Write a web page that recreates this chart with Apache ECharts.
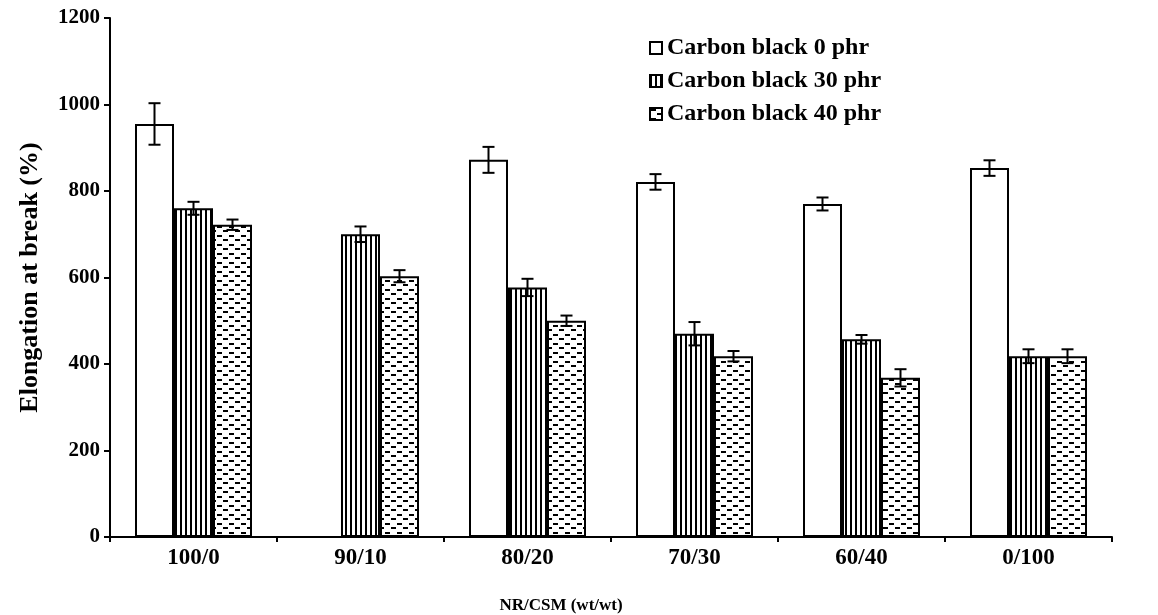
<!DOCTYPE html>
<html>
<head>
<meta charset="utf-8">
<script src="https://cdn.jsdelivr.net/npm/echarts@6/dist/echarts.min.js"></script>
<style>
  html, body { margin: 0; padding: 0; background: #fff; }
  #chart { width: 1158px; height: 615px; }
</style>
</head>
<body>
<div id="chart"></div>
<script>
// Elongation at break of NR/CSM blends at three carbon black loadings
const categories = ['100/0', '90/10', '80/20', '70/30', '60/40', '0/100'];
const seriesNames = ['Carbon black 0 phr', 'Carbon black 30 phr', 'Carbon black 40 phr'];
const cb0 = [955, null, 872, 821, 770, 853];
const cb0Err = [48, null, 30, 18, 15, 18];
const cb30 = [760, 700, 577, 470, 457, 418];
const cb30Err = [15, 18, 20, 27, 10, 16];
const cb40 = [722, 603, 500, 418, 368, 418];
const cb40Err = [12, 14, 12, 12, 20, 16];
const yTicks = [0, 200, 400, 600, 800, 1000, 1200];

const values = [cb0, cb30, cb40];
const errors = [cb0Err, cb30Err, cb40Err];

const FONT = '"Liberation Serif", "Times New Roman", serif';
const BAR_W = 39;

// Fill patterns drawn on small canvases
function plainFill() { return '#ffffff'; }
function stripeFill() {
  const c = document.createElement('canvas');
  c.width = 5; c.height = 6;
  const g = c.getContext('2d');
  g.fillStyle = '#fff'; g.fillRect(0, 0, 5, 6);
  g.fillStyle = '#000'; g.fillRect(0, 0, 2, 6);
  return { image: c, repeat: 'repeat' };
}
function dashFill() {
  const c = document.createElement('canvas');
  c.width = 12; c.height = 9;
  const g = c.getContext('2d');
  g.fillStyle = '#fff'; g.fillRect(0, 0, 12, 9);
  g.fillStyle = '#000';
  g.fillRect(1, 1, 5, 2);
  g.fillRect(7, 5, 5, 2);
  return { image: c, repeat: 'repeat' };
}
const fills = [plainFill(), stripeFill(), dashFill()];

const chart = echarts.init(document.getElementById('chart'), null, { renderer: 'canvas' });

const barSeries = values.map((vals, si) => ({
  name: seriesNames[si],
  type: 'bar',
  barWidth: BAR_W,
  barGap: '0%',
  data: vals.map(v => (v == null ? '-' : v)),
  itemStyle: { color: fills[si], borderColor: '#000', borderWidth: 2 },
  emphasis: { disabled: true },
  animation: false
}));

const errSeries = values.map((vals, si) => ({
  type: 'custom',
  silent: true,
  animation: false,
  z: 5,
  data: vals.map((v, i) => (v == null ? null : [i, v, errors[si][i]])).filter(d => d),
  renderItem(params, api) {
    const x = api.value(0), v = api.value(1), e = api.value(2);
    const top = api.coord([x, v + e]);
    const bot = api.coord([x, v - e]);
    const cx = top[0] + (si - 1) * BAR_W;
    const cap = 6;
    const st = { stroke: '#000', lineWidth: 2 };
    return {
      type: 'group',
      children: [
        { type: 'line', shape: { x1: cx, y1: top[1], x2: cx, y2: bot[1] }, style: st },
        { type: 'line', shape: { x1: cx - cap, y1: top[1], x2: cx + cap, y2: top[1] }, style: st },
        { type: 'line', shape: { x1: cx - cap, y1: bot[1], x2: cx + cap, y2: bot[1] }, style: st }
      ]
    };
  }
}));

chart.setOption({
  backgroundColor: '#fff',
  animation: false,
  grid: { left: 110, right: 46, top: 18, bottom: 78, containLabel: false, outerBoundsMode: 'none' },
  legend: {
    data: seriesNames,
    orient: 'vertical',
    left: 644,
    top: 31,
    itemWidth: 12,
    itemHeight: 12,
    itemGap: 9,
    icon: 'rect',
    selectedMode: false,
    textStyle: { fontFamily: FONT, fontWeight: 'bold', fontSize: 24, color: '#000', padding: [0, 0, 0, 0] }
  },
  xAxis: {
    type: 'category',
    data: categories,
    name: 'NR/CSM (wt/wt)',
    nameLocation: 'middle',
    nameGap: 60,
    nameTextStyle: { fontFamily: FONT, fontWeight: 'bold', fontSize: 17, color: '#000', padding: [0, 100, 0, 0] },
    axisLine: { lineStyle: { color: '#000', width: 2 } },
    axisTick: { show: true, inside: false, length: 5, lineStyle: { color: '#000', width: 2 } },
    axisLabel: { fontFamily: FONT, fontWeight: 'bold', fontSize: 23, color: '#000', margin: 10 },
    splitLine: { show: false }
  },
  yAxis: {
    type: 'value',
    min: 0,
    max: 1200,
    interval: 200,
    name: 'Elongation at break (%)',
    nameLocation: 'middle',
    nameGap: 67,
    nameTextStyle: { fontFamily: FONT, fontWeight: 'bold', fontSize: 26, color: '#000' },
    axisLine: { show: true, lineStyle: { color: '#000', width: 2 } },
    axisTick: { show: true, inside: false, length: 6, lineStyle: { color: '#000', width: 2 } },
    axisLabel: {
      fontFamily: FONT, fontWeight: 'bold', fontSize: 21, color: '#000', margin: 10,
      formatter: v => (yTicks.includes(v) ? String(v) : '')
    },
    splitLine: { show: false }
  },
  series: [...barSeries, ...errSeries]
});
</script>
</body>
</html>
